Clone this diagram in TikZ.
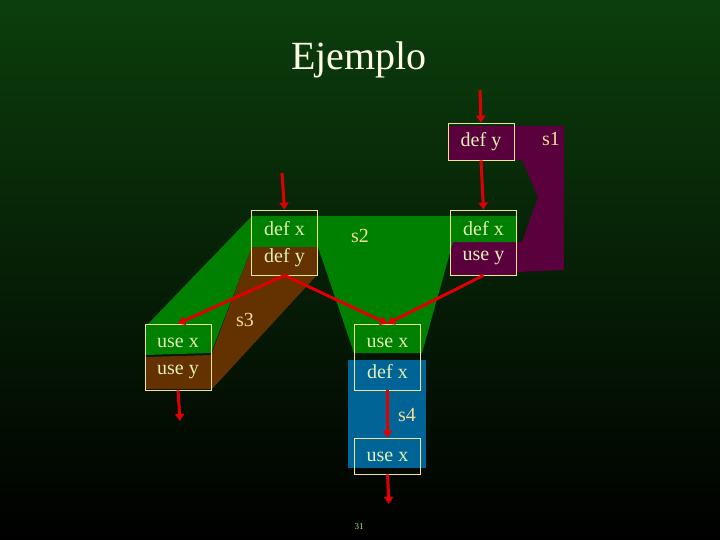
\documentclass[tikz,border=0pt]{standalone}
\usepackage{fontspec}
\setmainfont{Liberation Serif}
\usetikzlibrary{arrows.meta}
\definecolor{bgtop}{RGB}{12,62,12}
\definecolor{pur}{RGB}{90,0,60}
\definecolor{grn}{RGB}{0,128,0}
\definecolor{brn}{RGB}{100,50,0}
\definecolor{blu}{RGB}{0,100,150}
\definecolor{boxline}{RGB}{240,230,150}
\definecolor{txtc}{RGB}{225,240,180}
\definecolor{lab}{RGB}{240,220,150}
\definecolor{arr}{RGB}{225,0,0}
\tikzset{
 bx/.style={draw=boxline,line width=0.8pt,minimum width=66pt,inner sep=0pt},
 txt/.style={text=txtc,font=\fontsize{20}{24}\selectfont},
 lbl/.style={text=lab,font=\fontsize{20}{24}\selectfont},
 ar/.style={draw=arr,line width=3pt,-{Triangle[length=7pt,width=9pt]}}
}
\begin{document}
\begin{tikzpicture}[x=1pt,y=-1pt]
\shade[top color=bgtop,bottom color=black] (0,0) rectangle (720,540);
\useasboundingbox (0,0) rectangle (720,540);
% regions
\fill[pur] (448,126)--(564,126)--(564,270)--(517,272)--(517,275)--(450,275)--(450,242)--(522,242)--(538,197)--(522,160)--(448,160)--cycle;
\fill[grn] (252,216)--(517,216)--(517,242)--(453,242)--(422,353)--(354,353)--(318,247)--(252,247)--(211,353)--(146,355)--(146,326)--cycle;
\fill[brn] (252,247)--(317,247)--(317,275)--(212,389)--(145,389)--(145,357)--(211,355)--cycle;
\fill[blu] (348,360) rectangle (426,468);
% boxes
\node[bx,minimum height=37pt] (A) at (481,141.5) {};
\node[bx,minimum height=65pt] (B) at (483.5,242.5) {};
\node[bx,minimum height=65pt] (C) at (284.5,242.5) {};
\node[bx,minimum height=66pt] (D) at (178,357) {};
\node[bx,minimum height=66pt] (E) at (387.5,357) {};
\node[bx,minimum height=36pt] (F) at (387.5,456) {};
\node[txt] at (481,142) {def y};
\node[txt] at (483.5,229) {def x};
\node[txt] at (483.5,258) {use y};
\node[txt] at (284.5,229) {def x};
\node[txt] at (284.5,258) {def y};
\node[txt] at (178,343) {use x};
\node[txt] at (178,372) {use y};
\node[txt] at (387.5,343) {use x};
\node[txt] at (387.5,372) {def x};
\node[txt] at (387.5,457) {use x};
% labels
\node[lbl] (s1) at (551,139) {s1};
\node[lbl] (s2) at (360,236) {s2};
\node[lbl] (s3) at (245,320) {s3};
\node[lbl] (s4) at (407,415) {s4};
\node[text=white!90!yellow,font=\fontsize{40}{46}\selectfont] (T) at (359,60) {Ejemplo};
\node[text=lab!70!green,font=\fontsize{9}{10}\selectfont] (P) at (359,527) {31};
% arrows
\coordinate (a0) at (480,90);
\coordinate (c0) at (282,173);
\coordinate (d1) at (180,421);
\coordinate (f1) at (389,504);
\draw[ar] (a0) -- (A.north);
\draw[ar] (A.south) -- (B.north);
\draw[ar] (c0) -- (C.north);
\draw[ar] (C.south) -- (D.north);
\draw[ar] (C.south) -- (E.north);
\draw[ar] (B.south) -- (E.north);
\draw[ar] (D.south) -- (d1);
\draw[ar] (E.south) -- (F.north);
\draw[ar] (F.south) -- (f1);
\end{tikzpicture}
\end{document}
